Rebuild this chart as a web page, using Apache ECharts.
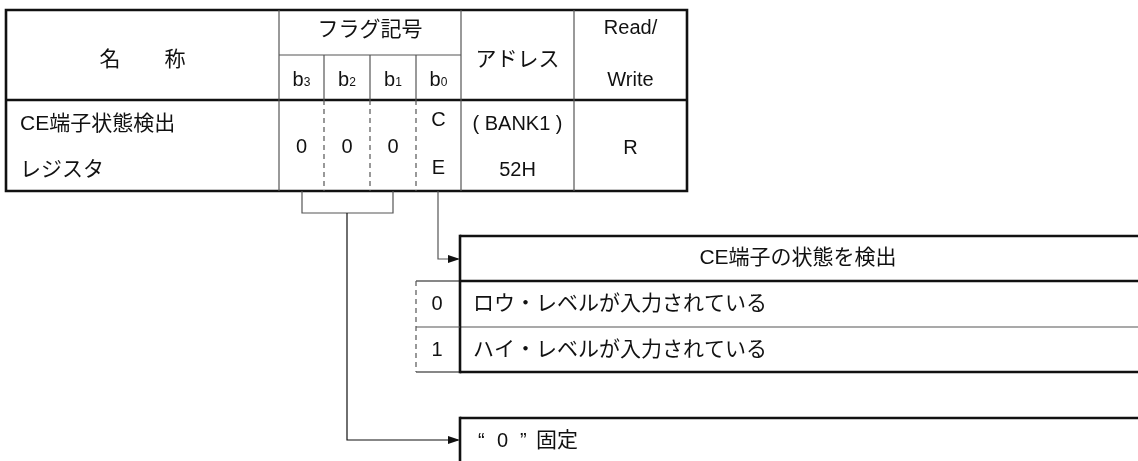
<!DOCTYPE html>
<html>
<head>
<meta charset="utf-8">
<script src="https://cdn.jsdelivr.net/npm/echarts@6/dist/echarts.min.js"></script>
<style>html,body{margin:0;padding:0;background:#fff}#c{width:1138px;height:461px}</style>
</head>
<body>
<div id="c"></div>
<script>
// ---- data ----
const nameHeader = ['名', '称'];
const flagHeader = 'フラグ記号';
const bitIndex = ['3', '2', '1', '0'];
const bitValues = ['0', '0', '0', 'C\nE'];
const registerName = ['CE端子状態検出', 'レジスタ'];
const addressHeader = 'アドレス';
const addressLines = ['( BANK1 )', '52H'];
const rwHeader = ['Read/', 'Write'];
const rwValue = 'R';
const ceTitle = 'CE端子の状態を検出';
const ceValues = ['0', '1'];
const ceMeaning = ['ロウ・レベルが入力されている', 'ハイ・レベルが入力されている'];
const fixedText = ['“', '0', '”', '固定'];

// ---- layout ----
const FONT = "'Liberation Sans', Arial, 'Noto Sans CJK JP', sans-serif";
const FS = 20, FS_CJK = 21;
const colX = [6, 279, 324, 370, 416, 461, 574, 687];
const rowY = [10, 55, 100, 191];
const THICK = 2.6, THIN = 1.2, GRAY = '#555', BLACK = '#111';

const g = [];
function line(x1, y1, x2, y2, w, c, dash) {
  g.push({ type: 'line', silent: true, shape: { x1, y1, x2, y2 },
    style: { stroke: c || GRAY, lineWidth: w || THIN, lineDash: dash || null } });
}
function poly(points, w, c) {
  g.push({ type: 'polyline', silent: true, shape: { points },
    style: { stroke: c || GRAY, lineWidth: w || THIN, fill: null } });
}
function arrow(x, y) {
  g.push({ type: 'polygon', silent: true, shape: { points: [[x - 12, y - 4], [x, y], [x - 12, y + 4]] },
    style: { fill: BLACK } });
}
function text(t, x, y, align, size) {
  const s = size || (/[^\x00-\x7F]/.test(t) ? FS_CJK : FS);
  g.push({ type: 'text', silent: true, x, y,
    style: { text: t, fill: BLACK, font: s + 'px ' + FONT,
      align: align || 'center', verticalAlign: 'middle', lineHeight: 48 } });
}

// top table frame
g.push({ type: 'rect', silent: true, shape: { x: colX[0], y: rowY[0], width: colX[7] - colX[0], height: rowY[3] - rowY[0] },
  style: { fill: null, stroke: BLACK, lineWidth: THICK } });
line(colX[0], rowY[2], colX[7], rowY[2], THICK, BLACK);
[1, 5, 6].forEach(i => line(colX[i], rowY[0], colX[i], rowY[3]));
line(colX[1], rowY[1], colX[5], rowY[1]);
[2, 3, 4].forEach(i => {
  line(colX[i], rowY[1], colX[i], rowY[2]);
  line(colX[i], rowY[2], colX[i], rowY[3], THIN, GRAY, [5, 4]);
});

// header texts
text(nameHeader[0], 110, 60);
text(nameHeader[1], 175, 60);
text(flagHeader, (colX[1] + colX[5]) / 2, 30);
bitIndex.forEach((b, i) => {
  const cx = (colX[1 + i] + colX[2 + i]) / 2;
  g.push({ type: 'text', silent: true, x: cx, y: 80,
    style: { text: '{a|b}{s|' + b + '}', align: 'center', verticalAlign: 'middle', fill: BLACK,
      rich: { a: { fontSize: FS, fontFamily: FONT, lineHeight: 22, fill: BLACK },
              s: { fontSize: 12, fontFamily: FONT, lineHeight: 22, fill: BLACK, padding: [6, 0, 0, 0] } } } });
});
text(addressHeader, (colX[5] + colX[6]) / 2, 60);
text(rwHeader[0], (colX[6] + colX[7]) / 2, 28);
text(rwHeader[1], (colX[6] + colX[7]) / 2, 80);

// data row
text(registerName[0], 20, 124, 'left');
text(registerName[1], 20, 170, 'left');
bitValues.forEach((v, i) => {
  const cx = (colX[1 + i] + colX[2 + i]) / 2;
  if (v.indexOf('\n') >= 0) {
    const parts = v.split('\n');
    text(parts[0], cx, 120);
    text(parts[1], cx, 168);
  } else text(v, cx, 147);
});
text(addressLines[0], (colX[5] + colX[6]) / 2, 124);
text(addressLines[1], (colX[5] + colX[6]) / 2, 170);
text(rwValue, (colX[6] + colX[7]) / 2, 148);

// connectors
poly([[302, rowY[3]], [302, 213], [393, 213], [393, rowY[3]]]);
poly([[347, 213], [347, 440], [458, 440]], THIN, BLACK);
arrow(460, 440);
poly([[438, rowY[3]], [438, 259], [458, 259]]);
arrow(460, 259);

// CE description box
const bx = 460, bTop = 236, bHead = 281, bMid = 327, bBot = 372, bRight = 1145;
line(bx, bTop, bRight, bTop, THICK, BLACK);
line(bx, bHead, bRight, bHead, THICK, BLACK);
line(bx, bMid, bRight, bMid, THIN, GRAY);
line(bx, bBot, bRight, bBot, THICK, BLACK);
line(bx, bTop - 1.3, bx, bBot + 1.3, THICK, BLACK);
line(416, bHead, bx, bHead, THIN, BLACK);
line(416, bMid, bx, bMid, THIN, GRAY);
line(416, bBot, bx, bBot, THIN, BLACK);
line(416, bHead, 416, bBot, THIN, GRAY, [5, 4]);
text(ceTitle, 798, 258);
ceValues.forEach((v, i) => {
  const y = i === 0 ? 304 : 350;
  text(v, 437, y);
  text(ceMeaning[i], 473, y, 'left');
});

// fixed box
line(bx, 418, bRight, 418, THICK, BLACK);
line(bx, 418 - 1.3, bx, 470, THICK, BLACK);
const fixedX = [478, 497, 520, 536];
fixedText.forEach((t, i) => text(t, fixedX[i], 441, 'left', i === 3 ? FS_CJK : FS));

const chart = echarts.init(document.getElementById('c'), null, { renderer: 'canvas' });
chart.setOption({ animation: false, backgroundColor: '#fff', graphic: { elements: g } });
</script>
</body>
</html>
